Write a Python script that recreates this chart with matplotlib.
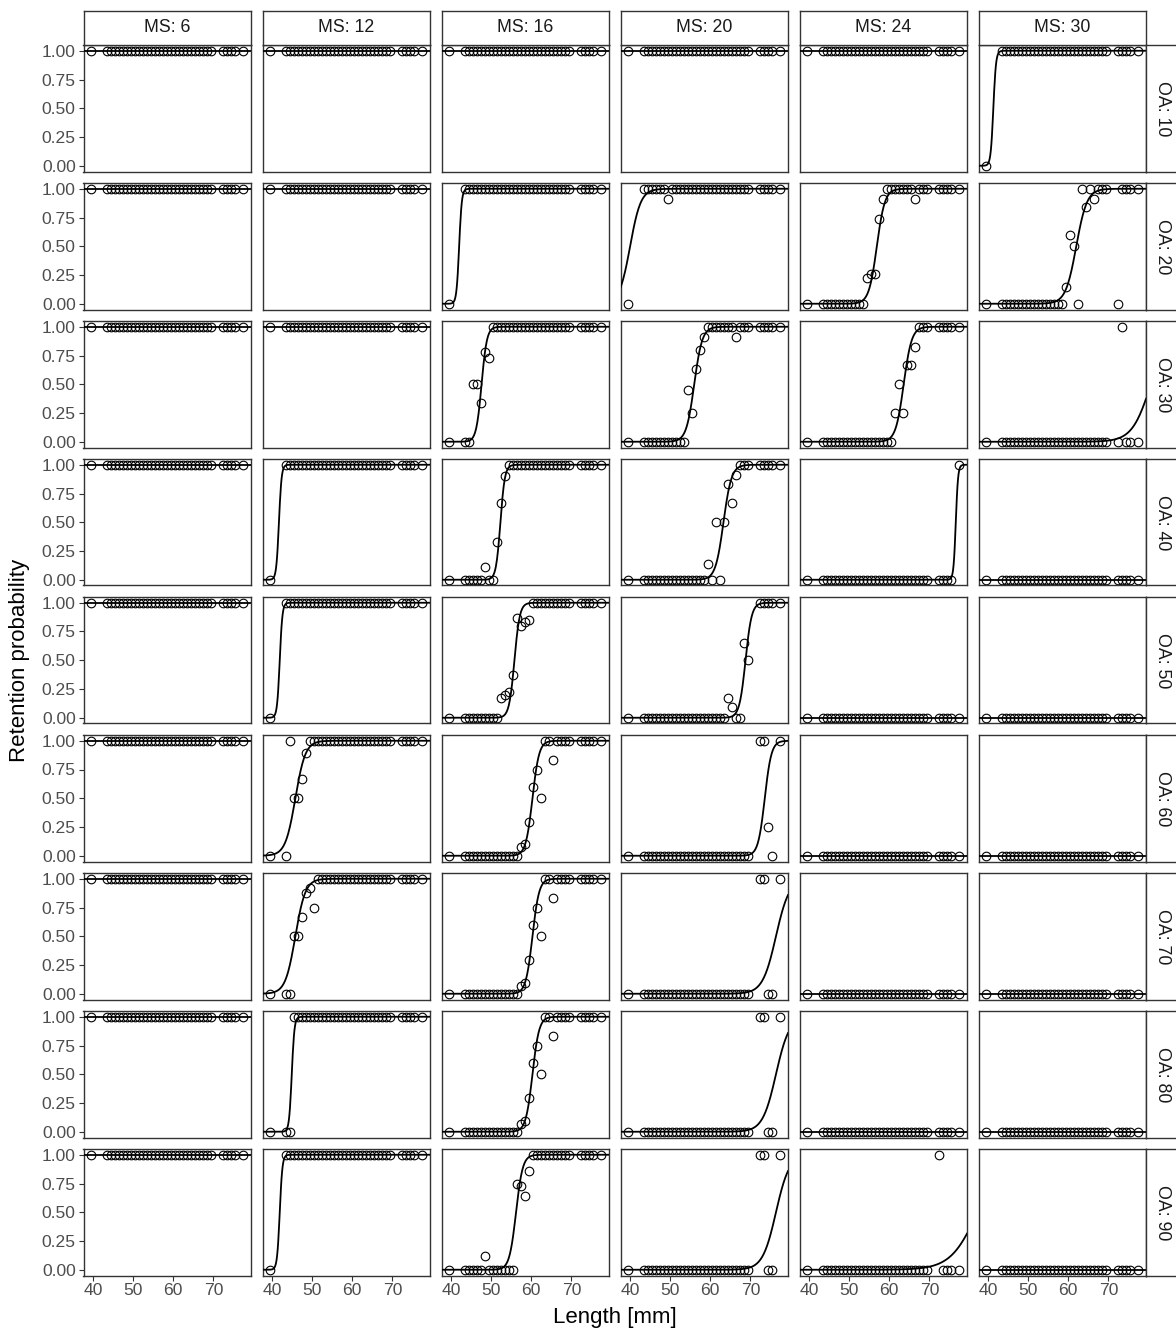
import matplotlib.pyplot as plt
import numpy as np

plt.rcParams['font.family'] = ['Liberation Sans', 'DejaVu Sans']

ms_levels = [6, 12, 16, 20, 24, 30]
oa_levels = [10, 20, 30, 40, 50, 60, 70, 80, 90]

length_mm = [39.5, 43.5, 44.5, 45.5, 46.5, 47.5, 48.5, 49.5, 50.5, 51.5, 52.5,
             53.5, 54.5, 55.5, 56.5, 57.5, 58.5, 59.5, 60.5, 61.5, 62.5, 63.5,
             64.5, 65.5, 66.5, 67.5, 68.5, 69.5, 72.5, 73.5, 74.5, 75.5, 77.5]

# observed retention: lengths >= full_from sit at 1, shorter ones at 0 (None = all at 0)
full_from = [
    [39.5, 39.5, 39.5, 39.5, 39.5, 43.5],   # OA 10
    [39.5, 39.5, 43.5, 43.5, 59.5, 63.5],   # OA 20
    [39.5, 39.5, 50.5, 59.5, 67.5, None],   # OA 30
    [39.5, 43.5, 54.5, 67.5, 77.5, None],   # OA 40
    [39.5, 43.5, 60.5, 72.5, None, None],   # OA 50
    [39.5, 49.5, 63.5, None, None, None],   # OA 60
    [39.5, 51.5, 63.5, None, None, None],   # OA 70
    [39.5, 45.5, 63.5, None, None, None],   # OA 80
    [39.5, 43.5, 60.5, None, None, None],   # OA 90
]

# points that are off the step, (OA, MS) -> {length: proportion retained}
off_step = {
    (20, 20): {49.5: 0.91},
    (20, 24): {54.5: 0.22, 55.5: 0.26, 56.5: 0.26, 57.5: 0.74, 58.5: 0.91, 66.5: 0.91},
    (20, 30): {59.5: 0.15, 60.5: 0.60, 61.5: 0.50, 64.5: 0.84, 66.5: 0.91, 72.5: 0.0},
    (30, 16): {45.5: 0.50, 46.5: 0.50, 47.5: 0.34, 48.5: 0.78, 49.5: 0.73},
    (30, 20): {54.5: 0.45, 55.5: 0.25, 56.5: 0.63, 57.5: 0.80, 58.5: 0.91, 66.5: 0.91},
    (30, 24): {61.5: 0.25, 62.5: 0.50, 63.5: 0.25, 64.5: 0.67, 65.5: 0.67, 66.5: 0.82},
    (30, 30): {73.5: 1.0},
    (40, 16): {48.5: 0.11, 51.5: 0.33, 52.5: 0.67, 53.5: 0.90},
    (40, 20): {59.5: 0.14, 61.5: 0.50, 63.5: 0.50, 64.5: 0.83, 65.5: 0.67, 66.5: 0.91},
    (50, 16): {52.5: 0.17, 53.5: 0.20, 54.5: 0.22, 55.5: 0.37, 56.5: 0.87, 57.5: 0.80,
               58.5: 0.83, 59.5: 0.85},
    (50, 20): {64.5: 0.17, 65.5: 0.09, 68.5: 0.65, 69.5: 0.50},
    (60, 12): {44.5: 1.0, 45.5: 0.50, 46.5: 0.50, 47.5: 0.67, 48.5: 0.89},
    (60, 16): {57.5: 0.08, 58.5: 0.10, 59.5: 0.29, 60.5: 0.60, 61.5: 0.75, 62.5: 0.50, 65.5: 0.83},
    (60, 20): {72.5: 1.0, 73.5: 1.0, 74.5: 0.25, 77.5: 1.0},
    (70, 12): {45.5: 0.50, 46.5: 0.50, 47.5: 0.67, 48.5: 0.88, 49.5: 0.92, 50.5: 0.75},
    (70, 16): {57.5: 0.07, 58.5: 0.09, 59.5: 0.29, 60.5: 0.60, 61.5: 0.75, 62.5: 0.50, 65.5: 0.83},
    (70, 20): {72.5: 1.0, 73.5: 1.0, 77.5: 1.0},
    (80, 16): {57.5: 0.07, 58.5: 0.09, 59.5: 0.29, 60.5: 0.60, 61.5: 0.75, 62.5: 0.50, 65.5: 0.83},
    (80, 20): {72.5: 1.0, 73.5: 1.0, 77.5: 1.0},
    (90, 16): {48.5: 0.12, 56.5: 0.75, 57.5: 0.73, 58.5: 0.64, 59.5: 0.86},
    (90, 20): {72.5: 1.0, 73.5: 1.0, 77.5: 1.0},
    (90, 24): {72.5: 1.0},
}

# fitted logistic curves: L50 [mm] and slope [1/mm] (None = flat line)
l50 = [
    [None, None, None, None, None, 41.3],
    [None, None, 42.0, 40.0, 56.9, 62.0],
    [None, None, 47.6, 56.0, 63.6, 80.6],
    [None, 41.7, 52.3, 63.3, 76.6, None],
    [None, 41.9, 55.8, 68.8, None, None],
    [None, 45.8, 60.3, 73.6, None, None],
    [None, 45.8, 60.3, 76.4, None, None],
    [None, 44.9, 60.3, 76.4, None, None],
    [None, 41.9, 56.2, 76.4, 82.0, None],
]
slope = [
    [0, 0, 0, 0, 0, 3.0],
    [0, 0, 3.0, 0.75, 1.0, 0.75],
    [0, 0, 1.5, 1.0, 1.0, 0.43],
    [0, 3.0, 1.8, 1.0, 3.5, 0],
    [0, 3.0, 1.5, 1.3, 0, 0],
    [0, 0.8, 1.2, 1.2, 0, 0],
    [0, 0.8, 1.2, 0.6, 0, 0],
    [0, 3.0, 1.2, 0.6, 0, 0],
    [0, 3.0, 1.2, 0.6, 0.3, 0],
]

W, H = 1176, 1335
fig = plt.figure(figsize=(W / 100, H / 100), dpi=100)


def add_ax(x0, y0, w, h):
    # pixel box measured from the top-left corner
    return fig.add_axes([x0 / W, 1 - (y0 + h) / H, w / W, h / H])


def frame(ax):
    for s in ax.spines.values():
        s.set_color(border)
        s.set_linewidth(1.0)


border = '#333333'
left0, col_step, pw = 83.5, 179.0, 167.5
top0, row_step, ph = 45.0, 138.0, 126.5
xlim = (37.6, 79.4)
xs = np.linspace(xlim[0], xlim[1], 300)

for i, oa in enumerate(oa_levels):
    for j, ms in enumerate(ms_levels):
        ax = add_ax(left0 + j * col_step, top0 + i * row_step, pw, ph)
        ff = full_from[i][j]
        extra = off_step.get((oa, ms), {})
        y = []
        for x in length_mm:
            if x in extra:
                y.append(extra[x])
            elif ff is not None and x >= ff:
                y.append(1.0)
            else:
                y.append(0.0)
        ax.plot(length_mm, y, 'o', ms=6.2, mfc='none', mec='black', mew=0.8, zorder=2)
        if l50[i][j] is None:
            level = 1.0 if ff is not None else 0.0
            ax.plot(xs, np.full_like(xs, level), color='black', lw=1.3, zorder=3)
        else:
            ax.plot(xs, 1 / (1 + np.exp(-slope[i][j] * (xs - l50[i][j]))),
                    color='black', lw=1.3, zorder=3)
        ax.set_xlim(*xlim)
        ax.set_ylim(-0.05, 1.05)
        frame(ax)
        ax.tick_params(colors=border, width=0.8, length=3.6, labelcolor='#4D4D4D',
                       labelsize=12.6, pad=2)
        ax.set_xticks([40, 50, 60, 70])
        ax.set_yticks([0, 0.25, 0.5, 0.75, 1.0])
        ax.set_yticklabels(['0.00', '0.25', '0.50', '0.75', '1.00'])
        if j > 0:
            ax.tick_params(left=False, labelleft=False)
        if i < len(oa_levels) - 1:
            ax.tick_params(bottom=False, labelbottom=False)

        if i == 0:
            st = add_ax(left0 + j * col_step, 10.5, pw, top0 - 10.5)
            st.set_xticks([])
            st.set_yticks([])
            frame(st)
            st.text(0.5, 0.5, f'MS: {ms}', ha='center', va='center',
                    fontsize=12.8, color='#1A1A1A', transform=st.transAxes)
        if j == len(ms_levels) - 1:
            st = add_ax(left0 + j * col_step + pw, top0 + i * row_step, 34, ph)
            st.set_xticks([])
            st.set_yticks([])
            frame(st)
            st.text(0.5, 0.5, f'OA: {oa}', ha='center', va='center', rotation=270,
                    fontsize=12.8, color='#1A1A1A', transform=st.transAxes)

fig.text((left0 + 5 * col_step + pw / 2 + left0 + pw / 2) / 2 / W, 1 - 1318 / H,
         'Length [mm]', ha='center', va='center', fontsize=16)
fig.text(20 / W, 1 - (top0 + (8 * row_step + ph) / 2) / H, 'Retention probability',
         ha='center', va='center', rotation=90, fontsize=16)

fig.savefig('out.png', dpi=100)
